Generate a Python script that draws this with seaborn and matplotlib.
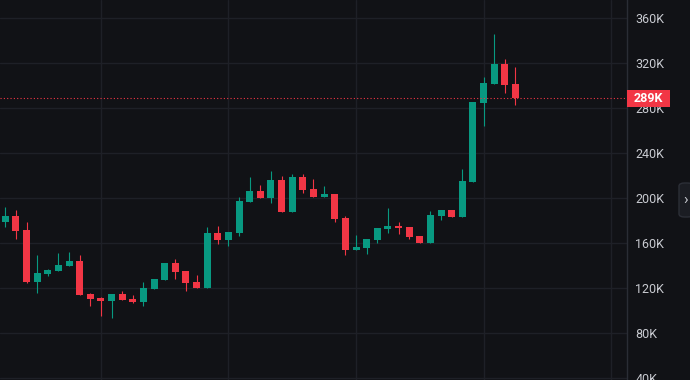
import matplotlib
matplotlib.use("Agg")
import matplotlib.pyplot as plt
import matplotlib.transforms as mtransforms
from matplotlib.patches import Rectangle, FancyBboxPatch
import numpy as np
import pandas as pd
import seaborn as sns

# monthly candles, prices in thousands
opens = [178.9, 184.3, 171.8, 125.6, 132.7, 135.4, 139.8, 144.3, 114.9, 111.3,
         108.6, 114.9, 110.4, 107.7, 119.4, 127.4, 142.5, 135.4, 125.6, 120.3,
         169.1, 163.0, 169.1, 196.7, 206.5, 200.3, 216.3, 187.8, 219.0, 208.3,
         201.2, 203.8, 182.5, 154.1, 155.8, 163.0, 172.7, 175.4, 174.5, 166.5,
         160.3, 184.3, 189.6, 183.4, 214.5, 284.7, 301.6, 319.3, 301.6]
highs = [192.3, 189.6, 178.9, 149.6, 137.2, 151.4, 152.3, 149.6, 115.8, 112.2,
         114.9, 117.6, 114.0, 125.6, 128.3, 142.5, 146.0, 135.4, 131.9, 174.5,
         175.4, 170.0, 201.2, 218.9, 211.8, 224.3, 219.8, 221.6, 221.6, 217.2,
         210.9, 203.8, 184.3, 167.4, 163.8, 173.6, 191.4, 178.9, 174.5, 166.5,
         188.7, 189.6, 189.6, 226.1, 285.5, 307.8, 346.0, 323.8, 316.7]
lows = [174.5, 163.8, 124.7, 115.8, 131.0, 135.4, 139.8, 114.0, 104.2, 95.7,
        94.0, 109.5, 106.8, 104.2, 119.4, 127.4, 128.3, 117.6, 120.3, 120.3,
        159.4, 157.6, 166.5, 196.7, 200.3, 195.8, 187.8, 187.8, 204.7, 201.2,
        201.2, 178.9, 149.6, 154.1, 150.5, 160.3, 169.1, 168.3, 163.8, 160.3,
        160.3, 180.7, 183.4, 183.4, 214.5, 264.3, 301.6, 293.6, 282.9]
closes = [184.3, 170.9, 125.6, 133.6, 136.3, 140.7, 144.3, 114.0, 110.4, 108.6,
          114.9, 109.5, 107.7, 120.3, 128.3, 142.5, 134.5, 124.7, 120.3, 169.1,
          163.0, 170.0, 197.6, 206.5, 200.3, 216.3, 187.8, 219.0, 207.4, 201.2,
          203.8, 181.6, 154.1, 156.7, 163.8, 173.6, 175.4, 173.6, 165.6, 160.3,
          185.1, 189.6, 183.4, 215.4, 285.5, 302.4, 319.3, 300.7, 289.0]

last_price = 289.0
last_label = "289K"
price_ticks = [40, 80, 120, 160, 200, 240, 280, 320, 360]
price_labels = ["40K", "80K", "120K", "160K", "200K", "240K", "280K", "320K", "360K"]
year_breaks = [9, 21, 33, 45, 57]

BG = "#111216"
GRID = "#1e2027"
UP = "#089981"
DOWN = "#f23645"
TEXT = "#c9cbd1"

sns.set_theme(style="dark", rc={
    "axes.facecolor": BG,
    "figure.facecolor": BG,
    "grid.color": GRID,
    "axes.edgecolor": GRID,
})
plt.rcParams["font.family"] = ["Roboto", "DejaVu Sans"]

df = pd.DataFrame({"open": opens, "high": highs, "low": lows, "close": closes})
df["idx"] = np.arange(len(df))
df["up"] = df["close"] >= df["open"]
df["color"] = np.where(df["up"], UP, DOWN)
df["bottom"] = df[["open", "close"]].min(axis=1)
df["height"] = (df["close"] - df["open"]).abs().clip(lower=1.0)

fig = plt.figure(figsize=(6.9, 3.8), dpi=100)
ax = fig.add_axes([0, 0, 627 / 690, 1])

# wicks then bodies
ax.vlines(df["idx"], df["low"], df["high"], colors=df["color"], lw=0.8, zorder=3)
ax.bar(df["idx"], df["height"], bottom=df["bottom"], width=0.66,
       color=df["color"], linewidth=0, zorder=4)

ax.set_xlim(-0.5, 58.5)
ax.set_ylim(38.5, 376.3)

ax.set_xticks(year_breaks)
ax.set_xticklabels([])
ax.set_yticks(price_ticks)
ax.set_yticklabels(price_labels)
ax.yaxis.tick_right()
ax.tick_params(axis="x", length=0)
ax.tick_params(axis="y", length=0, pad=6, labelcolor=TEXT, labelsize=9)
ax.grid(True, color=GRID, lw=1)
ax.set_axisbelow(True)

for side in ["top", "left", "bottom"]:
    ax.spines[side].set_visible(False)
ax.spines["right"].set_color("#2a2d35")
ax.spines["right"].set_linewidth(1)

# last price line + tag
ax.axhline(last_price, color=DOWN, lw=0.8, ls=(0, (1, 2)), zorder=5)
ytrans = ax.get_yaxis_transform()
ax.add_patch(Rectangle((1.0, last_price - 7.6), 43 / 627, 15.1, transform=ytrans,
                       facecolor=DOWN, edgecolor="none", clip_on=False, zorder=10))
txt_trans = mtransforms.offset_copy(ytrans, fig=fig, x=21.5, y=0, units="dots")
ax.text(1.0, last_price, last_label, transform=txt_trans, ha="center", va="center",
        color="white", fontsize=9, fontweight="bold", clip_on=False, zorder=11)

# collapse tab at right edge
tab = FancyBboxPatch((679 / 690, (380 - 217) / 380), 14 / 690, 34 / 380,
                     boxstyle="round,pad=0,rounding_size=0.008",
                     transform=fig.transFigure, facecolor="#1b1d23",
                     edgecolor="#2c2f37", lw=1)
fig.patches.append(tab)
fig.text(685.5 / 690, 1 - 200 / 380, "\u203a", color=TEXT, fontsize=11,
         ha="center", va="center")

fig.savefig("out.png", dpi=100, facecolor=BG)
